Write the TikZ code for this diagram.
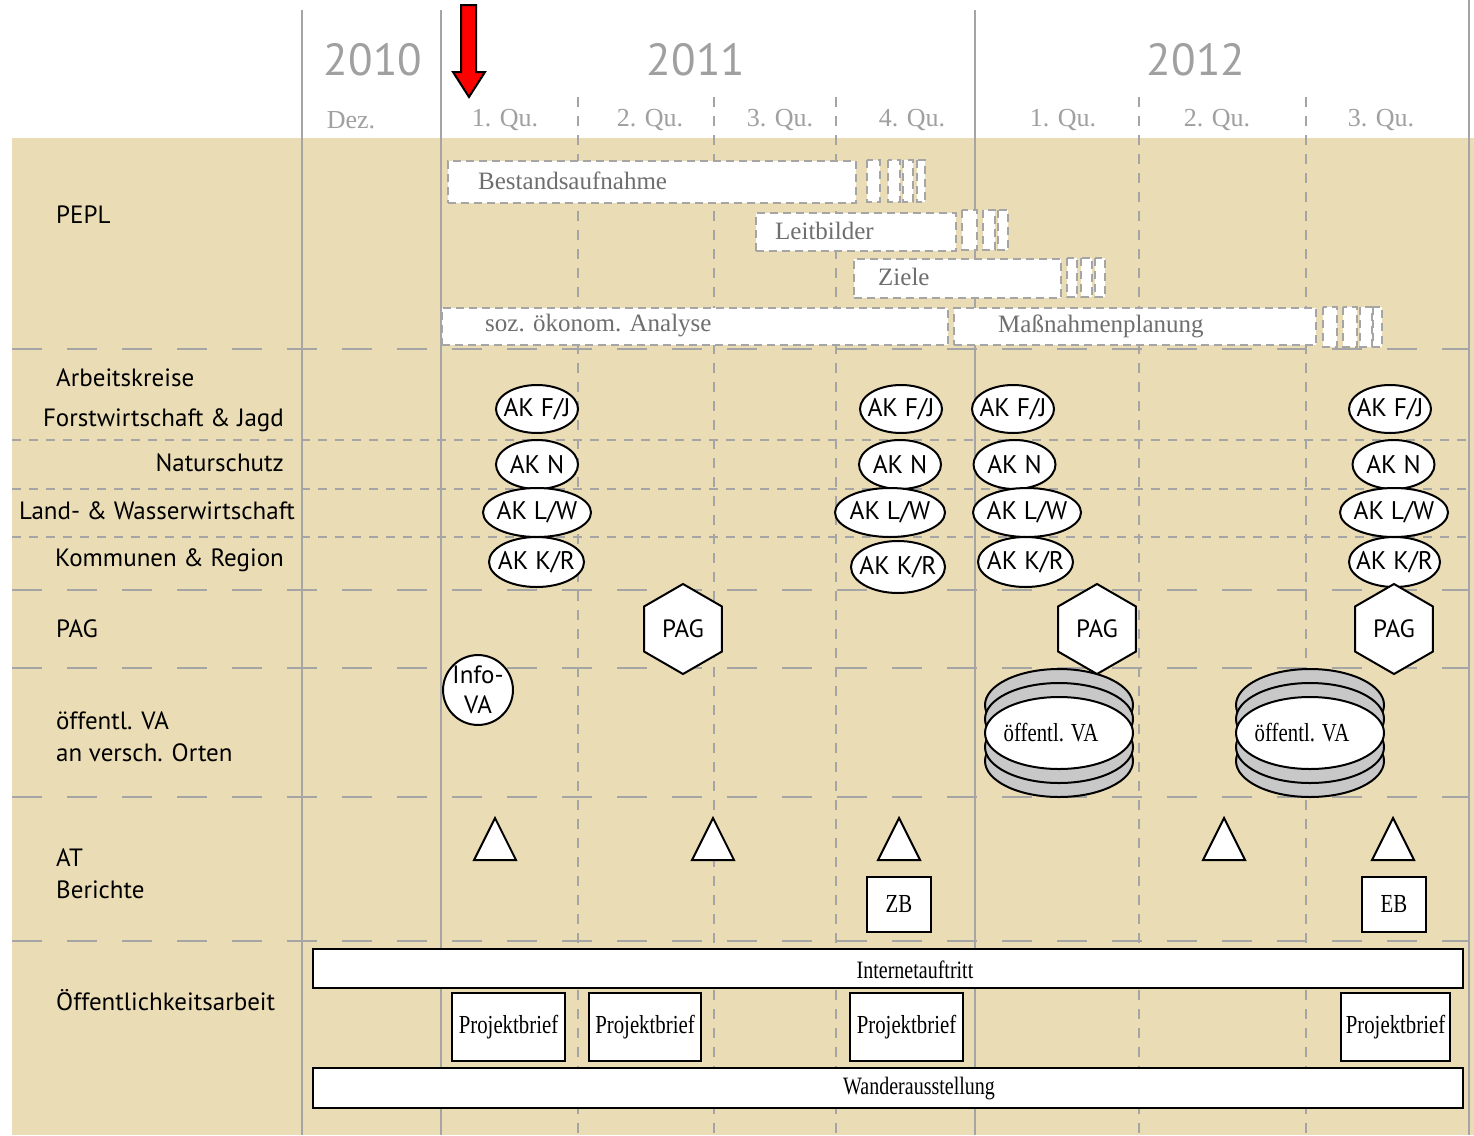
\documentclass[tikz,border=0pt]{standalone}
\usepackage{fontspec}
\setmainfont{Liberation Serif}
\newfontfamily\sansf{PT Sans}
\newfontfamily\condf[FakeStretch=0.8]{Liberation Serif}
\usetikzlibrary{shapes.geometric}
\definecolor{beige}{RGB}{234,220,180}
\definecolor{gridgray}{RGB}{165,165,165}
\definecolor{hdrgray}{RGB}{160,160,160}
\definecolor{bartext}{RGB}{110,110,110}
\definecolor{stackgray}{RGB}{200,200,200}
\newcommand\akt[1]{\makebox[0pt]{#1}}
\tikzset{
 vline/.style={draw=gridgray, line width=1.6pt},
 qline/.style={draw=gridgray, line width=1.4pt, dash pattern=on 10pt off 9pt},
 rowsep/.style={draw=gridgray, line width=1.8pt, dash pattern=on 30pt off 25pt},
 subsep/.style={draw=gridgray, line width=1.4pt, dash pattern=on 9pt off 8pt},
 year/.style={text=hdrgray, font=\sansf\fontsize{45}{45}\selectfont, inner sep=0pt},
 quarter/.style={text=hdrgray, font=\fontsize{26}{26}\selectfont, inner sep=0pt},
 rowlabel/.style={font=\sansf\fontsize{25}{32}\selectfont, text=black, inner sep=0pt, align=left},
 pbar/.style={draw=gridgray, fill=white, line width=1.5pt, dash pattern=on 8pt off 5pt, inner sep=0pt, anchor=north west},
 pfade/.style={draw=gridgray, fill=white, line width=1.5pt, dash pattern=on 8pt off 5pt},
 bartxt/.style={text=bartext, font=\fontsize{25}{25}\selectfont, inner sep=0pt, anchor=west},
 ak/.style={ellipse, draw=black, fill=white, line width=2pt, inner sep=0pt, font=\sansf\fontsize{25.5}{25.5}\selectfont},
 pag/.style={regular polygon, regular polygon sides=6, shape border rotate=30, draw=black, fill=white, line width=2pt, minimum size=90pt, inner sep=0pt, font=\sansf\fontsize{25}{25}\selectfont},
 stk/.style={ellipse, draw=black, fill=stackgray, line width=2pt, minimum width=148pt, minimum height=72pt, inner sep=0pt},
 stktop/.style={stk, fill=white, font=\condf\fontsize{26}{26}\selectfont},
 tri/.style={draw=black, fill=white, line width=2pt, line join=miter},
 box/.style={draw=black, fill=white, line width=2.2pt, inner sep=0pt, font=\condf\fontsize{26}{26}\selectfont},
 longbar/.style={draw=black, fill=white, line width=2.2pt, inner sep=0pt, minimum width=1150pt, minimum height=39pt},
 bartext2/.style={inner sep=0pt, font=\condf\fontsize{25}{25}\selectfont},
 infova/.style={circle, draw=black, fill=white, line width=2pt, minimum size=68pt, inner sep=0pt, align=center, font=\sansf\fontsize{25}{30}\selectfont},
}
\begin{document}
\begin{tikzpicture}[x=1pt, y=-1pt]
\useasboundingbox (0,0) rectangle (1474,1135);
\fill[white] (0,0) rectangle (1474,1135);
\fill[beige] (12,138) rectangle (1474,1135);

% vertical grid
\draw[vline] (302,10) -- (302,1135);
\draw[vline] (441,10) -- (441,1135);
\draw[vline] (975,10) -- (975,1135);
\draw[vline] (1469,0) -- (1469,1135);
\foreach \x in {578,714,836,1139,1306} \draw[qline] (\x,97) -- (\x,1135);

% row separators
\foreach \y in {349,590,668,797,941} \draw[rowsep] (12,\y) -- (1469,\y);
\foreach \y in {440,489,537} \draw[subsep] (12,\y) -- (1469,\y);

% header
\node[year] (y2010) at (373,60) {2010};
\node[year] (y2011) at (696,60) {2011};
\node[year] (y2012) at (1196,60) {2012};
\node[quarter] (qdez) at (351,120) {Dez.};
\node[quarter] (q11) at (505,120) {1. Qu.};
\node[quarter] (q12) at (650,120) {2. Qu.};
\node[quarter] (q13) at (780,120) {3. Qu.};
\node[quarter] (q14) at (912,120) {4. Qu.};
\node[quarter] (q21) at (1063,120) {1. Qu.};
\node[quarter] (q22) at (1217,120) {2. Qu.};
\node[quarter] (q23) at (1381,120) {3. Qu.};

% red arrow
\draw[fill=red, draw=black, line width=2pt, line join=miter] (461,5) -- (476,5) -- (476,72) -- (485,72) -- (469,97) -- (453,72) -- (461,72) -- cycle;

% row labels
\node[rowlabel, anchor=west] (lpepl) at (56,215) {PEPL};
\node[rowlabel, anchor=west] (lak) at (56,378) {Arbeitskreise};
\node[rowlabel, anchor=east] (lfj) at (284,420) {Forstwirtschaft \& Jagd};
\node[rowlabel, anchor=east] (ln) at (284,463) {Naturschutz};
\node[rowlabel, anchor=east] (llw) at (295,511) {Land- \& Wasserwirtschaft};
\node[rowlabel, anchor=east] (lkr) at (284,560) {Kommunen \& Region};
\node[rowlabel, anchor=west] (lpag) at (56,629) {PAG};
\node[rowlabel, anchor=west] (lva) at (56,737) {öffentl. VA\\an versch. Orten};
\node[rowlabel, anchor=west] (lat) at (56,874) {AT\\Berichte};
\node[rowlabel, anchor=west] (loeff) at (56,1000) {Öffentlichkeitsarbeit};

% PEPL bars
\node[pbar, minimum width=408pt, minimum height=42pt] (bbest) at (447,160) {};
\node[bartxt] (tbest) at (478,181) {Bestandsaufnahme};
\foreach \a/\b in {867/880,888/900,903/913,917/925} \draw[pfade] (\a,160) rectangle (\b,202);
\node[pbar, minimum width=200pt, minimum height=38pt] (bleit) at (755,212) {};
\node[bartxt] (tleit) at (775,231) {Leitbilder};
\foreach \a/\b in {962/977,983/995,998/1008} \draw[pfade] (\a,210) rectangle (\b,250);
\node[pbar, minimum width=207pt, minimum height=39pt] (bziel) at (853,258) {};
\node[bartxt] (tziel) at (878,277) {Ziele};
\foreach \a/\b in {1067/1077,1081/1092,1095/1105} \draw[pfade] (\a,258) rectangle (\b,297);
\node[pbar, minimum width=506pt, minimum height=37pt] (bsoz) at (441,307) {};
\node[bartxt] (tsoz) at (485,326) {soz. ökonom. Analyse};
\node[pbar, minimum width=362pt, minimum height=37pt] (bmass) at (953,307) {};
\node[bartxt] (tmass) at (998,326) {Maßnahmenplanung};
\foreach \a/\b in {1323/1337,1343/1357,1360/1372,1373/1382} \draw[pfade] (\a,307) rectangle (\b,347);

% AK column 1
\node[ak, minimum width=82pt, minimum height=48pt] (a1fj) at (537,409) {\akt{AK F/J}};
\node[ak, minimum width=82pt, minimum height=49pt] (a1n) at (537,464.5) {\akt{AK N}};
\node[ak, minimum width=108pt, minimum height=49pt] (a1lw) at (537,512.5) {\akt{AK L/W}};
\node[ak, minimum width=95pt, minimum height=50pt] (a1kr) at (536.5,562) {\akt{AK K/R}};
% AK column 2
\node[ak, minimum width=82pt, minimum height=48pt] (a2fj) at (901,409) {\akt{AK F/J}};
\node[ak, minimum width=82pt, minimum height=49pt] (a2n) at (900,464.5) {\akt{AK N}};
\node[ak, minimum width=110pt, minimum height=49pt] (a2lw) at (890,512.5) {\akt{AK L/W}};
\node[ak, minimum width=94pt, minimum height=52pt] (a2kr) at (898,567) {\akt{AK K/R}};
% AK column 3
\node[ak, minimum width=82pt, minimum height=48pt] (a3fj) at (1013,409) {\akt{AK F/J}};
\node[ak, minimum width=82pt, minimum height=49pt] (a3n) at (1014.5,464.5) {\akt{AK N}};
\node[ak, minimum width=108pt, minimum height=49pt] (a3lw) at (1027,512.5) {\akt{AK L/W}};
\node[ak, minimum width=95pt, minimum height=50pt] (a3kr) at (1025.5,562) {\akt{AK K/R}};
% AK column 4
\node[ak, minimum width=82pt, minimum height=48pt] (a4fj) at (1390,409) {\akt{AK F/J}};
\node[ak, minimum width=82pt, minimum height=49pt] (a4n) at (1393.5,464.5) {\akt{AK N}};
\node[ak, minimum width=108pt, minimum height=49pt] (a4lw) at (1394,512.5) {\akt{AK L/W}};
\node[ak, minimum width=91pt, minimum height=50pt] (a4kr) at (1394.5,562) {\akt{AK K/R}};

% Info-VA
\node[infova] (info) at (478,690) {Info-\\VA};

% öffentl. VA stacks
\foreach \cx/\n in {1059/s1,1310/s2}{
  \node[stk] (\n e) at (\cx,761) {};
  \node[stk] (\n a) at (\cx,705) {};
  \node[stk] (\n d) at (\cx,747) {};
  \node[stk] (\n b) at (\cx,719) {};
}
\node[stktop] (s1c) at (1059,733) {\hspace*{-16pt}öffentl. VA};
\node[stktop] (s2c) at (1310,733) {\hspace*{-16pt}öffentl. VA};

% PAG
\node[pag] (pag1) at (683,629) {PAG};
\node[pag] (pag2) at (1097,629) {PAG};
\node[pag] (pag3) at (1394,629) {PAG};

% AT triangles
\foreach \cx/\n in {495/t1,713/t2,899/t3,1224/t4,1393/t5}{
  \coordinate (\n) at (\cx,818);
  \draw[tri] (\n) -- ++(21,42) -- ++(-42,0) -- cycle;
}
\node[box, minimum width=64pt, minimum height=55pt] (zb) at (899,904.5) {ZB};
\node[box, minimum width=64pt, minimum height=55pt] (eb) at (1394,904.5) {EB};

% Öffentlichkeitsarbeit
\node[longbar] (inet) at (888,968.5) {};
\node[bartext2] (tinet) at (915,970) {Internetauftritt};
\node[box, minimum width=113pt, minimum height=68pt] (pb1) at (508.5,1027) {Projektbrief};
\node[box, minimum width=112pt, minimum height=68pt] (pb2) at (645,1027) {Projektbrief};
\node[box, minimum width=113pt, minimum height=68pt] (pb3) at (906.5,1027) {Projektbrief};
\node[box, minimum width=109pt, minimum height=68pt] (pb4) at (1395.5,1027) {Projektbrief};
\node[longbar, minimum height=40pt] (wand) at (888,1088) {};
\node[bartext2] (twand) at (919,1089) {Wanderausstellung};
\end{tikzpicture}
\end{document}
